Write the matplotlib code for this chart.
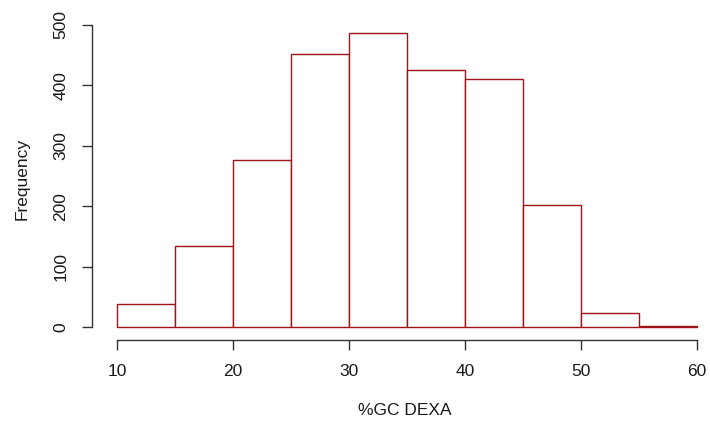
import matplotlib
matplotlib.use('Agg')
import matplotlib.pyplot as plt
import numpy as np

plt.rcParams['font.family'] = ['Liberation Sans', 'DejaVu Sans']

# histogram data (bin edges and counts)
bin_edges = [10, 15, 20, 25, 30, 35, 40, 45, 50, 55, 60]
counts = [38, 134, 277, 452, 486, 425, 411, 202, 24, 2]
x_ticks = [10, 20, 30, 40, 50, 60]
y_ticks = [0, 100, 200, 300, 400, 500]

W, H = 710, 423
fig = plt.figure(figsize=(W / 100, H / 100), dpi=100)
# axes box in pixels: left 92, bottom 340, right 710, top 5
ax = fig.add_axes([92 / W, (H - 340) / H, (710 - 92) / W, (340 - 5) / H])

edges = np.array(bin_edges)
ax.bar(edges[:-1], counts, width=np.diff(edges), align='edge',
       facecolor='white', edgecolor='#9E1418', linewidth=1.0)

# pixel mapping: 10 -> 117, 60 -> 697 ; 0 -> 327, 500 -> 25
xs = (697 - 117) / 50
ax.set_xlim(10 - (117 - 92) / xs, 10 + (710 - 117) / xs)
ys = (327 - 25) / 500
ax.set_ylim(-(340 - 327) / ys, 500 + (25 - 5) / ys)

for s in ['top', 'right']:
    ax.spines[s].set_visible(False)
ax.spines['left'].set_bounds(0, 500)
ax.spines['bottom'].set_bounds(10, 60)
for s in ['left', 'bottom']:
    ax.spines[s].set_color('#333333')
    ax.spines[s].set_linewidth(1.0)

ax.set_xticks(x_ticks)
ax.set_yticks(y_ticks)
ax.tick_params(axis='both', direction='out', length=7, width=1.0,
               color='#333333', labelsize=12.5, labelcolor='#1a1a1a')
ax.tick_params(axis='x', pad=10)
ax.tick_params(axis='y', pad=10)
for lab in ax.get_yticklabels():
    lab.set_rotation(90)
    lab.set_va('center')

fig.text(405 / W, 1 - 410 / H, '%GC DEXA', ha='center', va='center',
         fontsize=12.5, color='#1a1a1a')
fig.text(22 / W, 1 - 179 / H, 'Frequency', ha='center', va='center',
         rotation=90, fontsize=12.5, color='#1a1a1a')

fig.savefig('out.png', dpi=100)
